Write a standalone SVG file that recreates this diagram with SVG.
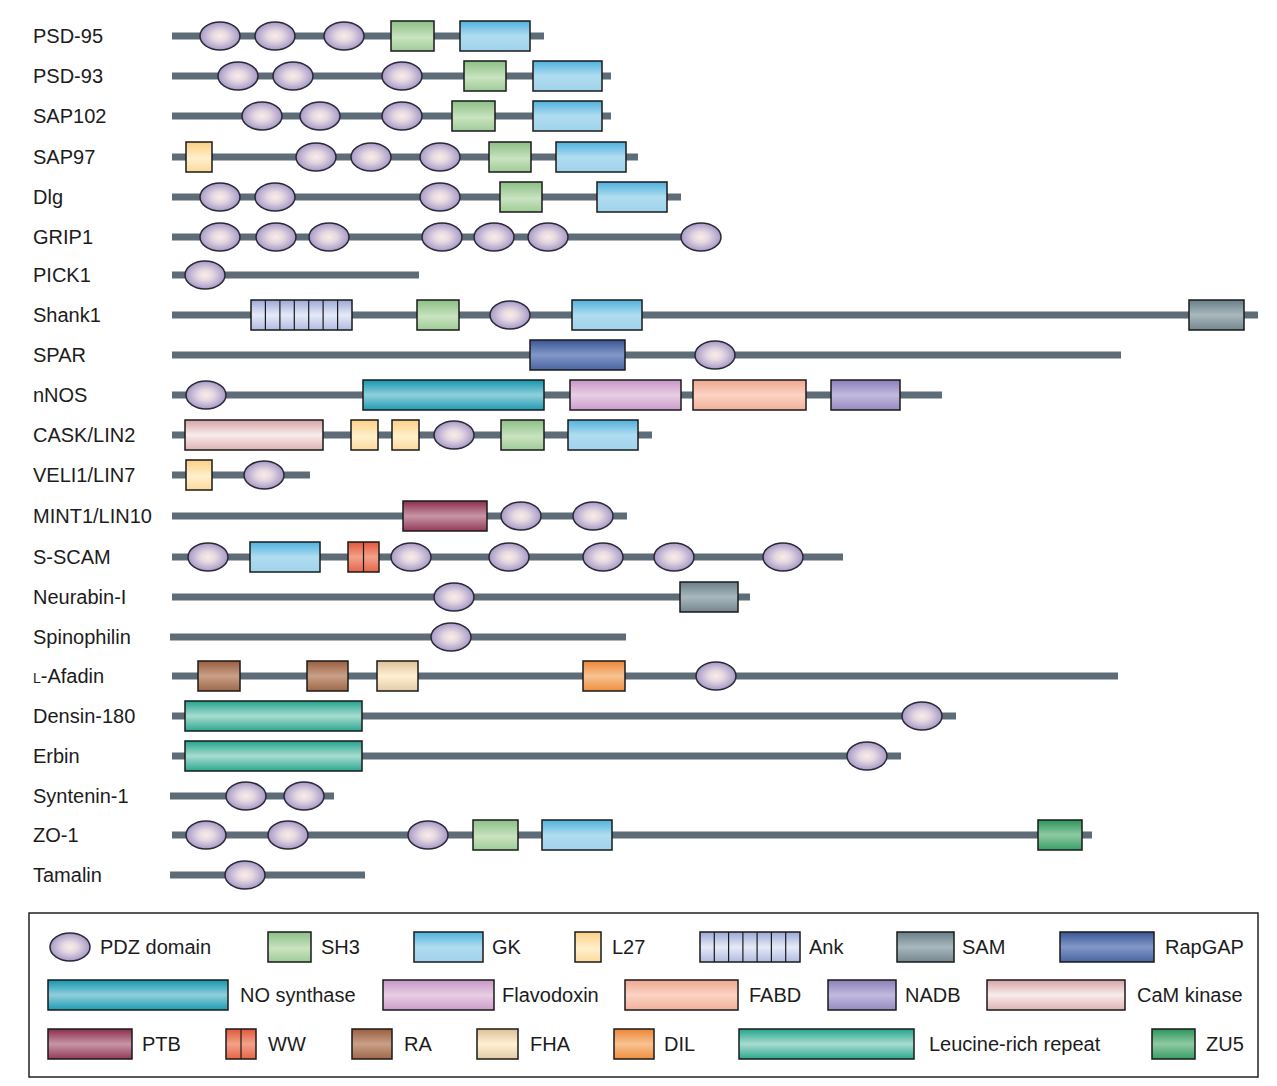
<svg xmlns="http://www.w3.org/2000/svg" width="1277" height="1086" viewBox="0 0 1277 1086">
<defs>
<radialGradient id="pdz" cx="0.5" cy="0.5" r="0.55">
<stop offset="0" stop-color="#faece4"/><stop offset="0.35" stop-color="#e6d8e2"/><stop offset="0.8" stop-color="#b2a6cc"/><stop offset="1" stop-color="#8e82b4"/>
</radialGradient>
<linearGradient id="sh3" x1="0" y1="0" x2="0" y2="1"><stop offset="0" stop-color="#8cbf86"/><stop offset="0.55" stop-color="#c9e3c0"/><stop offset="1" stop-color="#9fcb98"/></linearGradient>
<linearGradient id="gk" x1="0" y1="0" x2="0" y2="1"><stop offset="0" stop-color="#4fb2de"/><stop offset="0.5" stop-color="#b0dcf0"/><stop offset="1" stop-color="#9fd3ec"/></linearGradient>
<linearGradient id="l27" x1="0" y1="0" x2="0" y2="1"><stop offset="0" stop-color="#fccf84"/><stop offset="0.55" stop-color="#fff0cc"/><stop offset="1" stop-color="#fcd99c"/></linearGradient>
<linearGradient id="ank" x1="0" y1="0" x2="0" y2="1"><stop offset="0" stop-color="#9ba8d6"/><stop offset="0.5" stop-color="#e6eaf8"/><stop offset="1" stop-color="#b0bbe0"/></linearGradient>
<linearGradient id="sam" x1="0" y1="0" x2="0" y2="1"><stop offset="0" stop-color="#687e88"/><stop offset="0.5" stop-color="#a9b8be"/><stop offset="1" stop-color="#74868e"/></linearGradient>
<linearGradient id="rapgap" x1="0" y1="0" x2="0" y2="1"><stop offset="0" stop-color="#3a5594"/><stop offset="0.5" stop-color="#8298c8"/><stop offset="1" stop-color="#4a64a0"/></linearGradient>
<linearGradient id="nos" x1="0" y1="0" x2="0" y2="1"><stop offset="0" stop-color="#1496ae"/><stop offset="0.5" stop-color="#90cfdc"/><stop offset="1" stop-color="#1e9cb2"/></linearGradient>
<linearGradient id="flav" x1="0" y1="0" x2="0" y2="1"><stop offset="0" stop-color="#c696c6"/><stop offset="0.5" stop-color="#e8cee4"/><stop offset="1" stop-color="#cc9ccb"/></linearGradient>
<linearGradient id="fabd" x1="0" y1="0" x2="0" y2="1"><stop offset="0" stop-color="#f0a68e"/><stop offset="0.5" stop-color="#fbd3c4"/><stop offset="1" stop-color="#f2b09a"/></linearGradient>
<linearGradient id="nadb" x1="0" y1="0" x2="0" y2="1"><stop offset="0" stop-color="#8c7eba"/><stop offset="0.5" stop-color="#c2bade"/><stop offset="1" stop-color="#968ac0"/></linearGradient>
<linearGradient id="cam" x1="0" y1="0" x2="0" y2="1"><stop offset="0" stop-color="#d6a4a6"/><stop offset="0.5" stop-color="#f8ecea"/><stop offset="1" stop-color="#dcb2b2"/></linearGradient>
<linearGradient id="ptb" x1="0" y1="0" x2="0" y2="1"><stop offset="0" stop-color="#8a2c4e"/><stop offset="0.5" stop-color="#c896a6"/><stop offset="1" stop-color="#923a58"/></linearGradient>
<linearGradient id="ww" x1="0" y1="0" x2="0" y2="1"><stop offset="0" stop-color="#e2583a"/><stop offset="0.5" stop-color="#f2a28a"/><stop offset="1" stop-color="#e66448"/></linearGradient>
<linearGradient id="ra" x1="0" y1="0" x2="0" y2="1"><stop offset="0" stop-color="#9a5e3e"/><stop offset="0.5" stop-color="#c9a088"/><stop offset="1" stop-color="#a06848"/></linearGradient>
<linearGradient id="fha" x1="0" y1="0" x2="0" y2="1"><stop offset="0" stop-color="#dcc096"/><stop offset="0.5" stop-color="#fff0d4"/><stop offset="1" stop-color="#e4cca4"/></linearGradient>
<linearGradient id="dil" x1="0" y1="0" x2="0" y2="1"><stop offset="0" stop-color="#ec8634"/><stop offset="0.5" stop-color="#f8c292"/><stop offset="1" stop-color="#ee9040"/></linearGradient>
<linearGradient id="lrr" x1="0" y1="0" x2="0" y2="1"><stop offset="0" stop-color="#22a48c"/><stop offset="0.5" stop-color="#a8dcd0"/><stop offset="1" stop-color="#2aa890"/></linearGradient>
<linearGradient id="zu5" x1="0" y1="0" x2="0" y2="1"><stop offset="0" stop-color="#2a945c"/><stop offset="0.5" stop-color="#8ecaa2"/><stop offset="1" stop-color="#389e66"/></linearGradient>
</defs>
<style>
.bb{fill:none;stroke:#5d6c76;stroke-width:7}
.p{fill:url(#pdz);stroke:#2b2838;stroke-width:1.5}
.d{stroke:#1a1a1a;stroke-width:1.5}
.sep{stroke:#1a1a1a;stroke-width:1.2}
.bg{fill:#ffffff;stroke:none}
.frame{fill:none;stroke:#222222;stroke-width:1.5}
text{font-family:"Liberation Sans",Arial,sans-serif;font-size:20px;fill:#1c1c1c}
.sm{font-size:14px}
</style>
<rect class="bg" width="1277" height="1086"/>

<g id="labels">
<text x="33" y="43">PSD-95</text>
<text x="33" y="83">PSD-93</text>
<text x="33" y="123">SAP102</text>
<text x="33" y="164">SAP97</text>
<text x="33" y="204">Dlg</text>
<text x="33" y="244">GRIP1</text>
<text x="33" y="282">PICK1</text>
<text x="33" y="322">Shank1</text>
<text x="33" y="362">SPAR</text>
<text x="33" y="402">nNOS</text>
<text x="33" y="442">CASK/LIN2</text>
<text x="33" y="482">VELI1/LIN7</text>
<text x="33" y="523">MINT1/LIN10</text>
<text x="33" y="564">S-SCAM</text>
<text x="33" y="604">Neurabin-I</text>
<text x="33" y="644">Spinophilin</text>
<text x="33" y="683"><tspan class="sm">L</tspan>-Afadin</text>
<text x="33" y="723">Densin-180</text>
<text x="33" y="763">Erbin</text>
<text x="33" y="803">Syntenin-1</text>
<text x="33" y="842">ZO-1</text>
<text x="33" y="882">Tamalin</text>
</g>

<g id="connectors">
<line class="bb" x1="172" y1="36" x2="544" y2="36"/>
<line class="bb" x1="172" y1="76" x2="611" y2="76"/>
<line class="bb" x1="172" y1="116" x2="611" y2="116"/>
<line class="bb" x1="172" y1="157" x2="638" y2="157"/>
<line class="bb" x1="172" y1="197" x2="681" y2="197"/>
<line class="bb" x1="172" y1="237" x2="720" y2="237"/>
<line class="bb" x1="172" y1="275" x2="419" y2="275"/>
<line class="bb" x1="172" y1="315" x2="1258" y2="315"/>
<line class="bb" x1="172" y1="355" x2="1121" y2="355"/>
<line class="bb" x1="172" y1="395" x2="942" y2="395"/>
<line class="bb" x1="172" y1="435" x2="652" y2="435"/>
<line class="bb" x1="172" y1="475" x2="310" y2="475"/>
<line class="bb" x1="172" y1="516" x2="627" y2="516"/>
<line class="bb" x1="172" y1="557" x2="843" y2="557"/>
<line class="bb" x1="172" y1="597" x2="750" y2="597"/>
<line class="bb" x1="170" y1="637" x2="626" y2="637"/>
<line class="bb" x1="172" y1="676" x2="1118" y2="676"/>
<line class="bb" x1="172" y1="716" x2="956" y2="716"/>
<line class="bb" x1="172" y1="756" x2="901" y2="756"/>
<line class="bb" x1="170" y1="796" x2="334" y2="796"/>
<line class="bb" x1="172" y1="835" x2="1092" y2="835"/>
<line class="bb" x1="170" y1="875" x2="365" y2="875"/>
</g>

<g id="psd95">
<ellipse class="p" cx="220" cy="36" rx="20" ry="14"/><ellipse class="p" cx="275" cy="36" rx="20" ry="14"/><ellipse class="p" cx="344" cy="36" rx="20" ry="14"/>
<rect class="d" x="391" y="21" width="43" height="30" fill="url(#sh3)"/><rect class="d" x="460" y="21" width="70" height="30" fill="url(#gk)"/>
</g>
<g id="psd93">
<ellipse class="p" cx="238" cy="76" rx="20" ry="14"/><ellipse class="p" cx="293" cy="76" rx="20" ry="14"/><ellipse class="p" cx="402" cy="76" rx="20" ry="14"/>
<rect class="d" x="464" y="61" width="42" height="30" fill="url(#sh3)"/><rect class="d" x="533" y="61" width="69" height="30" fill="url(#gk)"/>
</g>
<g id="sap102">
<ellipse class="p" cx="262" cy="116" rx="20" ry="14"/><ellipse class="p" cx="320" cy="116" rx="20" ry="14"/><ellipse class="p" cx="402" cy="116" rx="20" ry="14"/>
<rect class="d" x="452" y="101" width="43" height="30" fill="url(#sh3)"/><rect class="d" x="533" y="101" width="69" height="30" fill="url(#gk)"/>
</g>
<g id="sap97">
<rect class="d" x="186" y="142" width="26" height="30" fill="url(#l27)"/>
<ellipse class="p" cx="316" cy="157" rx="20" ry="14"/><ellipse class="p" cx="371" cy="157" rx="20" ry="14"/><ellipse class="p" cx="440" cy="157" rx="20" ry="14"/>
<rect class="d" x="489" y="142" width="42" height="30" fill="url(#sh3)"/><rect class="d" x="556" y="142" width="70" height="30" fill="url(#gk)"/>
</g>
<g id="dlg">
<ellipse class="p" cx="220" cy="197" rx="20" ry="14"/><ellipse class="p" cx="275" cy="197" rx="20" ry="14"/><ellipse class="p" cx="440" cy="197" rx="20" ry="14"/>
<rect class="d" x="500" y="182" width="42" height="30" fill="url(#sh3)"/><rect class="d" x="597" y="182" width="70" height="30" fill="url(#gk)"/>
</g>
<g id="grip1">
<ellipse class="p" cx="220" cy="237" rx="20" ry="14"/><ellipse class="p" cx="276" cy="237" rx="20" ry="14"/><ellipse class="p" cx="329" cy="237" rx="20" ry="14"/><ellipse class="p" cx="442" cy="237" rx="20" ry="14"/><ellipse class="p" cx="494" cy="237" rx="20" ry="14"/><ellipse class="p" cx="548" cy="237" rx="20" ry="14"/><ellipse class="p" cx="701" cy="237" rx="20" ry="14"/>
</g>
<g id="pick1">
<ellipse class="p" cx="205" cy="275" rx="20" ry="14"/>
</g>
<g id="shank1">
<rect class="d" x="251" y="300" width="101" height="30" fill="url(#ank)"/>
<path class="sep" d="M265.4 300v30M279.9 300v30M294.3 300v30M308.7 300v30M323.1 300v30M337.6 300v30"/>
<rect class="d" x="417" y="300" width="42" height="30" fill="url(#sh3)"/>
<ellipse class="p" cx="510" cy="315" rx="20" ry="14"/>
<rect class="d" x="572" y="300" width="70" height="30" fill="url(#gk)"/>
<rect class="d" x="1189" y="300" width="55" height="30" fill="url(#sam)"/>
</g>
<g id="spar">
<rect class="d" x="530" y="340" width="95" height="30" fill="url(#rapgap)"/>
<ellipse class="p" cx="715" cy="355" rx="20" ry="14"/>
</g>
<g id="nnos">
<ellipse class="p" cx="206" cy="395" rx="20" ry="14"/>
<rect class="d" x="363" y="380" width="181" height="30" fill="url(#nos)"/>
<rect class="d" x="570" y="380" width="111" height="30" fill="url(#flav)"/>
<rect class="d" x="693" y="380" width="113" height="30" fill="url(#fabd)"/>
<rect class="d" x="831" y="380" width="69" height="30" fill="url(#nadb)"/>
</g>
<g id="cask">
<rect class="d" x="185" y="420" width="138" height="30" fill="url(#cam)"/>
<rect class="d" x="351" y="420" width="27" height="30" fill="url(#l27)"/><rect class="d" x="392" y="420" width="27" height="30" fill="url(#l27)"/>
<ellipse class="p" cx="454" cy="435" rx="20" ry="14"/>
<rect class="d" x="501" y="420" width="43" height="30" fill="url(#sh3)"/><rect class="d" x="568" y="420" width="70" height="30" fill="url(#gk)"/>
</g>
<g id="veli1">
<rect class="d" x="186" y="460" width="26" height="30" fill="url(#l27)"/>
<ellipse class="p" cx="264" cy="475" rx="20" ry="14"/>
</g>
<g id="mint1">
<rect class="d" x="403" y="501" width="84" height="30" fill="url(#ptb)"/>
<ellipse class="p" cx="521" cy="516" rx="20" ry="14"/><ellipse class="p" cx="593" cy="516" rx="20" ry="14"/>
</g>
<g id="sscam">
<ellipse class="p" cx="208" cy="557" rx="20" ry="14"/>
<rect class="d" x="250" y="542" width="70" height="30" fill="url(#gk)"/>
<rect class="d" x="348" y="542" width="31" height="30" fill="url(#ww)"/><line class="sep" x1="363.5" y1="542" x2="363.5" y2="572"/>
<ellipse class="p" cx="411" cy="557" rx="20" ry="14"/><ellipse class="p" cx="509" cy="557" rx="20" ry="14"/><ellipse class="p" cx="603" cy="557" rx="20" ry="14"/><ellipse class="p" cx="674" cy="557" rx="20" ry="14"/><ellipse class="p" cx="783" cy="557" rx="20" ry="14"/>
</g>
<g id="neurabin">
<ellipse class="p" cx="454" cy="597" rx="20" ry="14"/>
<rect class="d" x="680" y="582" width="58" height="30" fill="url(#sam)"/>
</g>
<g id="spinophilin">
<ellipse class="p" cx="451" cy="637" rx="20" ry="14"/>
</g>
<g id="afadin">
<rect class="d" x="198" y="661" width="42" height="30" fill="url(#ra)"/><rect class="d" x="307" y="661" width="41" height="30" fill="url(#ra)"/>
<rect class="d" x="377" y="661" width="41" height="30" fill="url(#fha)"/>
<rect class="d" x="583" y="661" width="42" height="30" fill="url(#dil)"/>
<ellipse class="p" cx="716" cy="676" rx="20" ry="14"/>
</g>
<g id="densin">
<rect class="d" x="185" y="701" width="177" height="30" fill="url(#lrr)"/>
<ellipse class="p" cx="922" cy="716" rx="20" ry="14"/>
</g>
<g id="erbin">
<rect class="d" x="185" y="741" width="177" height="30" fill="url(#lrr)"/>
<ellipse class="p" cx="867" cy="756" rx="20" ry="14"/>
</g>
<g id="syntenin">
<ellipse class="p" cx="246" cy="796" rx="20" ry="14"/><ellipse class="p" cx="304" cy="796" rx="20" ry="14"/>
</g>
<g id="zo1">
<ellipse class="p" cx="206" cy="835" rx="20" ry="14"/><ellipse class="p" cx="288" cy="835" rx="20" ry="14"/><ellipse class="p" cx="428" cy="835" rx="20" ry="14"/>
<rect class="d" x="473" y="820" width="45" height="30" fill="url(#sh3)"/><rect class="d" x="542" y="820" width="70" height="30" fill="url(#gk)"/>
<rect class="d" x="1038" y="820" width="44" height="30" fill="url(#zu5)"/>
</g>
<g id="tamalin">
<ellipse class="p" cx="245" cy="875" rx="20" ry="14"/>
</g>

<g id="legend">
<rect class="frame" x="29" y="913" width="1229" height="164"/>
<ellipse class="p" cx="70" cy="947" rx="20" ry="14"/><text x="100" y="954">PDZ domain</text>
<rect class="d" x="268" y="932" width="43" height="30" fill="url(#sh3)"/><text x="321" y="954">SH3</text>
<rect class="d" x="414" y="932" width="69" height="30" fill="url(#gk)"/><text x="492" y="954">GK</text>
<rect class="d" x="575" y="932" width="26" height="30" fill="url(#l27)"/><text x="612" y="954">L27</text>
<rect class="d" x="700" y="932" width="100" height="30" fill="url(#ank)"/>
<path class="sep" d="M714.3 932v30M728.6 932v30M742.9 932v30M757.1 932v30M771.4 932v30M785.7 932v30"/>
<text x="809" y="954">Ank</text>
<rect class="d" x="897" y="932" width="57" height="30" fill="url(#sam)"/><text x="962" y="954">SAM</text>
<rect class="d" x="1060" y="932" width="94" height="30" fill="url(#rapgap)"/><text x="1165" y="954">RapGAP</text>

<rect class="d" x="48" y="980" width="180" height="30" fill="url(#nos)"/><text x="240" y="1002">NO synthase</text>
<rect class="d" x="383" y="980" width="111" height="30" fill="url(#flav)"/><text x="502" y="1002">Flavodoxin</text>
<rect class="d" x="625" y="980" width="113" height="30" fill="url(#fabd)"/><text x="749" y="1002">FABD</text>
<rect class="d" x="828" y="980" width="68" height="30" fill="url(#nadb)"/><text x="905" y="1002">NADB</text>
<rect class="d" x="987" y="980" width="138" height="30" fill="url(#cam)"/><text x="1137" y="1002">CaM kinase</text>

<rect class="d" x="48" y="1029" width="84" height="30" fill="url(#ptb)"/><text x="142" y="1051">PTB</text>
<rect class="d" x="226" y="1029" width="30" height="30" fill="url(#ww)"/><line class="sep" x1="241" y1="1029" x2="241" y2="1059"/><text x="268" y="1051">WW</text>
<rect class="d" x="352" y="1029" width="40" height="30" fill="url(#ra)"/><text x="404" y="1051">RA</text>
<rect class="d" x="477" y="1029" width="41" height="30" fill="url(#fha)"/><text x="530" y="1051">FHA</text>
<rect class="d" x="614" y="1029" width="40" height="30" fill="url(#dil)"/><text x="664" y="1051">DIL</text>
<rect class="d" x="739" y="1029" width="175" height="30" fill="url(#lrr)"/><text x="929" y="1051">Leucine-rich repeat</text>
<rect class="d" x="1152" y="1029" width="43" height="30" fill="url(#zu5)"/><text x="1206" y="1051">ZU5</text>
</g>
</svg>
